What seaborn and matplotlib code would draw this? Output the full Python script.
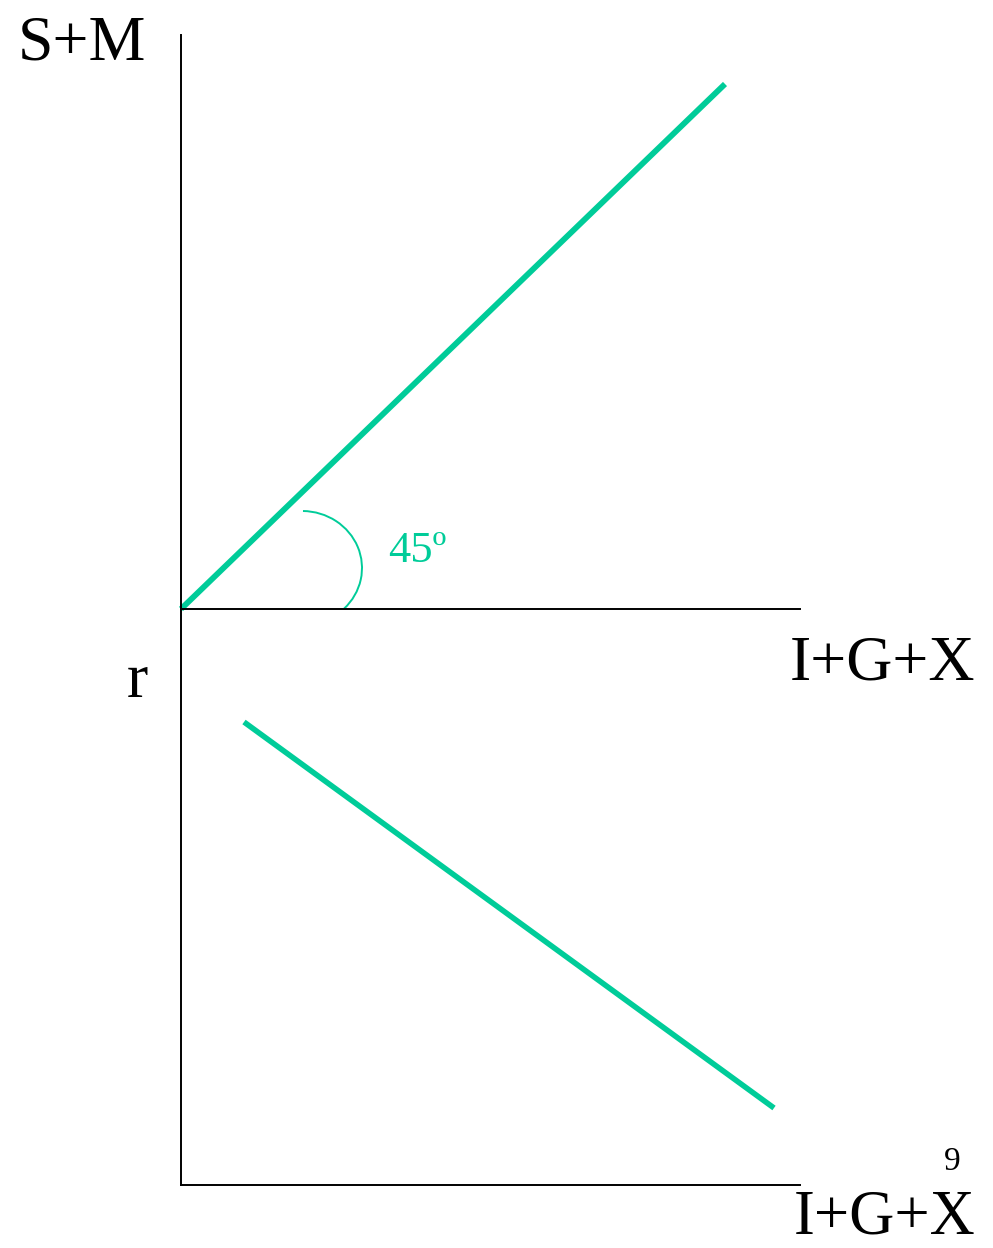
import numpy as np
import pandas as pd
import matplotlib
matplotlib.use("Agg")
import matplotlib.pyplot as plt
from matplotlib.patches import Arc
import seaborn as sns

# === Daten ===
# obere Grafik: 45-Grad-Linie (S+M gegen I+G+X)
top_x = [0.0, 5.44]
top_y = [0.0, 5.25]
# untere Grafik: fallende Kurve (r gegen I+G+X)
bottom_x = [0.63, 5.93]
bottom_y = [4.63, 0.77]
# Winkelbogen
arc_center = (1.21, 0.41)
arc_radius = 0.60
arc_angles = (-44, 89)
angle_label = "45º"

GREEN = "#00CC99"

sns.set_theme(style="white")
plt.rcParams["font.family"] = ["Liberation Serif", "DejaVu Serif"]

W, H = 993, 1248
fig = plt.figure(figsize=(W / 100, H / 100), dpi=100)


def px_box(left, top, right, bottom):
    return [left / W, 1 - bottom / H, (right - left) / W, (bottom - top) / H]


ax_top = fig.add_axes(px_box(181, 35, 800, 609))
ax_bot = fig.add_axes(px_box(181, 609, 800, 1185))

for ax in (ax_top, ax_bot):
    sns.despine(ax=ax)
    for s in ("left", "bottom"):
        ax.spines[s].set_color("black")
        ax.spines[s].set_linewidth(1.4)
    ax.set_xticks([])
    ax.set_yticks([])
    ax.patch.set_alpha(0)

ax_top.set_xlim(0, 6.19)
ax_top.set_ylim(0, 5.74)
ax_bot.set_xlim(0, 6.19)
ax_bot.set_ylim(0, 5.76)

df_top = pd.DataFrame({"x": top_x, "y": top_y})
df_bot = pd.DataFrame({"x": bottom_x, "y": bottom_y})
sns.lineplot(data=df_top, x="x", y="y", ax=ax_top, color=GREEN, linewidth=4.2,
             solid_capstyle="butt", clip_on=False)
sns.lineplot(data=df_bot, x="x", y="y", ax=ax_bot, color=GREEN, linewidth=4.0,
             solid_capstyle="butt", clip_on=False)
for ax in (ax_top, ax_bot):
    ax.set_xlabel("")
    ax.set_ylabel("")

ax_top.add_patch(Arc(arc_center, 2 * arc_radius, 2 * arc_radius * 0.95,
                     theta1=arc_angles[0], theta2=arc_angles[1],
                     color=GREEN, linewidth=1.4))


def label(x, y, text, size, ha="left", color="black"):
    fig.text(x / W, 1 - y / H, text, fontsize=size, ha=ha, va="baseline",
             color=color)


label(18, 60, "S+M", 46)
label(790, 680, "I+G+X", 46)
label(127, 697, "r", 46)
label(388, 562, angle_label, 32, color=GREEN)
label(952, 1170, "9", 24, ha="center")
label(794, 1233, "I+G+X", 45)

fig.savefig("out.png", dpi=100)
